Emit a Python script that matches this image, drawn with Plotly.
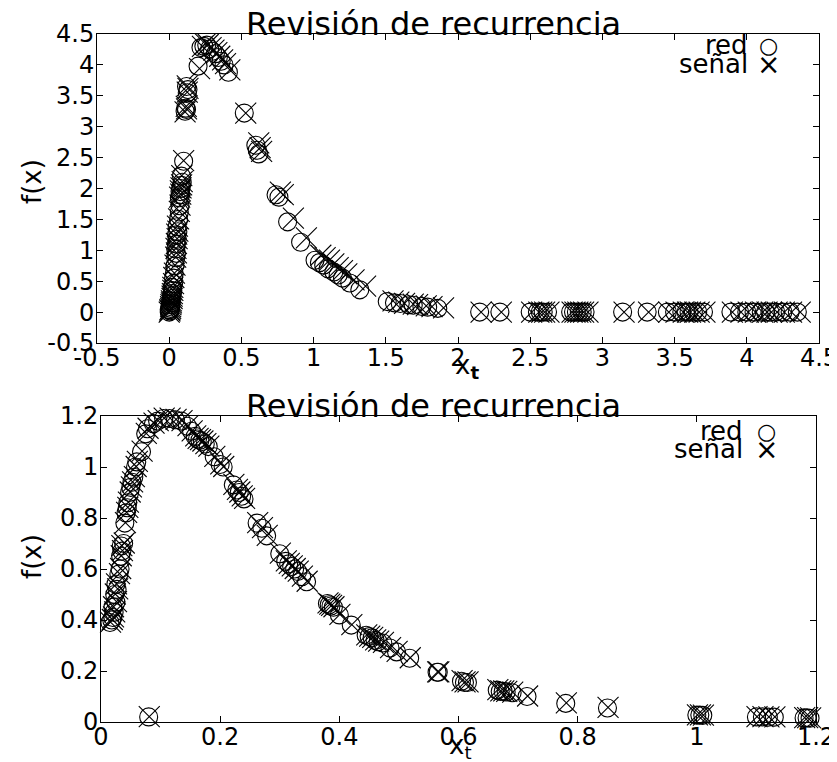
import plotly.graph_objects as go

# reference canvas size; the page body adds an 8 px margin, so the figure is drawn 8 px smaller
W, H = 837, 762
OFF = 8
FW, FH = W - OFF, H - OFF

# ---------------- top panel data ----------------
top_red_x = [0.00, 0.005, 0.0, 0.01, 0.005, 0.01, 0.015, 0.01, 0.02, 0.015, 0.02, 0.025, 0.02, 0.03,
             0.03, 0.035, 0.04, 0.045, 0.05, 0.045, 0.05, 0.055, 0.05, 0.06, 0.055, 0.065, 0.07, 0.075,
             0.07, 0.08, 0.075, 0.08, 0.085, 0.09, 0.085, 0.10,
             0.11, 0.12, 0.115, 0.125, 0.13, 0.12,
             0.20,
             0.22, 0.24, 0.26, 0.28, 0.30, 0.32, 0.34, 0.36, 0.38, 0.41,
             0.52,
             0.60, 0.61, 0.62,
             0.74, 0.76,
             0.82,
             0.91,
             1.01, 1.04, 1.07, 1.10, 1.14, 1.17, 1.20, 1.25, 1.32,
             1.51, 1.56, 1.60, 1.66, 1.69, 1.75, 1.79, 1.86,
             2.15, 2.29, 2.50, 2.55, 2.57, 2.59, 2.62, 2.78, 2.80, 2.82, 2.84, 2.86, 2.88,
             3.14, 3.31, 3.45, 3.50, 3.55, 3.58, 3.60, 3.63, 3.66, 3.70, 3.89, 3.95, 4.00,
             4.05, 4.10, 4.13, 4.16, 4.20, 4.25, 4.30, 4.35]
top_red_y = [0.00, 0.02, 0.04, 0.06, 0.09, 0.12, 0.15, 0.18, 0.22, 0.26, 0.30, 0.35, 0.40, 0.46,
             0.55, 0.62, 0.75, 0.88, 0.95, 1.02, 1.10, 1.18, 1.25, 1.30, 1.38, 1.50, 1.62, 1.72,
             1.85, 1.90, 1.95, 2.00, 2.05, 2.10, 2.20, 2.44,
             3.25, 3.28, 3.30, 3.55, 3.60, 3.65,
             3.98,
             4.28, 4.30, 4.32, 4.26, 4.22, 4.18, 4.12, 4.06, 4.00, 3.88,
             3.22,
             2.70, 2.62, 2.56,
             1.90, 1.86,
             1.46,
             1.13,
             0.84, 0.80, 0.76, 0.70, 0.65, 0.60, 0.55, 0.47, 0.36,
             0.17, 0.15, 0.14, 0.12, 0.11, 0.09, 0.08, 0.06,
             0.0, 0.0, 0.0, 0.0, 0.0, 0.0, 0.0, 0.0, 0.0, 0.0, 0.0, 0.0, 0.0,
             0.0, 0.0, 0.0, 0.0, 0.0, 0.0, 0.0, 0.0, 0.0, 0.0, 0.0, 0.0, 0.0,
             0.0, 0.0, 0.0, 0.0, 0.0, 0.0, 0.0, 0.0]

top_sen_x = [0.00, 0.005, 0.005, 0.01, 0.01, 0.012, 0.015, 0.015, 0.02, 0.02, 0.022, 0.025, 0.025, 0.03,
             0.032, 0.036, 0.04, 0.045, 0.05, 0.047, 0.05, 0.055, 0.052, 0.06, 0.057, 0.065, 0.07, 0.075,
             0.072, 0.08, 0.077, 0.082, 0.086, 0.09, 0.087, 0.10,
             0.11, 0.12, 0.118, 0.125, 0.13, 0.125,
             0.21,
             0.23, 0.25, 0.27, 0.29, 0.31, 0.33, 0.35, 0.37, 0.39, 0.42,
             0.53,
             0.62, 0.63, 0.64,
             0.77, 0.79,
             0.86,
             0.95,
             1.05, 1.08, 1.11, 1.14, 1.17, 1.20, 1.23, 1.28, 1.36,
             1.55, 1.59, 1.63, 1.69, 1.72, 1.78, 1.82, 1.90,
             2.16, 2.30, 2.51, 2.56, 2.58, 2.60, 2.63, 2.79, 2.81, 2.83, 2.85, 2.87, 2.90,
             3.15, 3.32, 3.46, 3.51, 3.56, 3.59, 3.61, 3.64, 3.67, 3.71, 3.90, 3.96, 4.01,
             4.06, 4.11, 4.14, 4.17, 4.21, 4.26, 4.31, 4.37]
top_sen_y = [0.00, 0.02, 0.04, 0.06, 0.09, 0.12, 0.15, 0.18, 0.22, 0.26, 0.30, 0.35, 0.40, 0.46,
             0.56, 0.63, 0.76, 0.89, 0.96, 1.03, 1.11, 1.19, 1.26, 1.31, 1.39, 1.51, 1.63, 1.73,
             1.86, 1.91, 1.96, 2.01, 2.06, 2.11, 2.21, 2.45,
             3.24, 3.29, 3.33, 3.56, 3.62, 3.66,
             3.94,
             4.30, 4.34, 4.33, 4.28, 4.24, 4.20, 4.14, 4.08, 4.02, 3.92,
             3.22,
             2.74, 2.66, 2.60,
             1.94, 1.90,
             1.52,
             1.20,
             0.92, 0.88, 0.84, 0.78, 0.72, 0.67, 0.62, 0.52, 0.42,
             0.18, 0.16, 0.14, 0.13, 0.12, 0.10, 0.09, 0.07,
             0.0, 0.0, 0.0, 0.0, 0.0, 0.0, 0.0, 0.0, 0.0, 0.0, 0.0, 0.0, 0.0,
             0.0, 0.0, 0.0, 0.0, 0.0, 0.0, 0.0, 0.0, 0.0, 0.0, 0.0, 0.0, 0.0,
             0.0, 0.0, 0.0, 0.0, 0.0, 0.0, 0.0, 0.0]

# ---------------- bottom panel data ----------------
bot_red_x = [0.015, 0.018, 0.020, 0.022, 0.020, 0.025, 0.023, 0.027, 0.025, 0.030, 0.032, 0.033, 0.035,
             0.034, 0.038, 0.040, 0.042, 0.044, 0.045, 0.048, 0.050, 0.052, 0.055, 0.058, 0.060, 0.068,
             0.075, 0.078, 0.088, 0.095, 0.105, 0.115, 0.125, 0.135, 0.145, 0.152, 0.158, 0.162, 0.166,
             0.170, 0.175, 0.180, 0.190, 0.200, 0.205, 0.222, 0.228, 0.232, 0.236, 0.240, 0.262, 0.270,
             0.278, 0.300, 0.310, 0.315, 0.320, 0.325, 0.330, 0.337, 0.345, 0.380, 0.383, 0.386, 0.390,
             0.400, 0.420, 0.445, 0.450, 0.455, 0.460, 0.465, 0.473, 0.485, 0.496, 0.518, 0.564, 0.566,
             0.605, 0.610, 0.615, 0.665, 0.670, 0.675, 0.680, 0.690, 0.715, 0.780, 0.850, 1.000, 1.005,
             1.010, 1.100, 1.110, 1.120, 1.130, 1.180, 1.185, 1.190, 0.080]
bot_red_y = [0.390, 0.400, 0.410, 0.430, 0.450, 0.470, 0.500, 0.520, 0.540, 0.580, 0.600, 0.650, 0.670,
             0.690, 0.700, 0.780, 0.820, 0.840, 0.860, 0.900, 0.920, 0.940, 0.960, 1.000, 1.020, 1.060,
             1.130, 1.150, 1.170, 1.180, 1.190, 1.190, 1.185, 1.180, 1.160, 1.140, 1.120, 1.110, 1.105,
             1.100, 1.090, 1.080, 1.040, 1.010, 1.000, 0.930, 0.910, 0.900, 0.885, 0.875, 0.780, 0.760,
             0.730, 0.660, 0.630, 0.620, 0.610, 0.600, 0.590, 0.570, 0.550, 0.465, 0.460, 0.455, 0.450,
             0.420, 0.380, 0.340, 0.335, 0.330, 0.320, 0.315, 0.310, 0.290, 0.275, 0.250, 0.195, 0.195,
             0.160, 0.155, 0.155, 0.125, 0.120, 0.120, 0.118, 0.115, 0.100, 0.073, 0.055, 0.027, 0.027,
             0.026, 0.020, 0.020, 0.019, 0.019, 0.016, 0.016, 0.015, 0.020]

bot_sen_x = [0.016, 0.019, 0.021, 0.023, 0.021, 0.026, 0.024, 0.028, 0.026, 0.031, 0.033, 0.034, 0.036,
             0.035, 0.039, 0.041, 0.043, 0.045, 0.046, 0.049, 0.051, 0.053, 0.056, 0.059, 0.061, 0.069,
             0.076, 0.079, 0.089, 0.096, 0.106, 0.116, 0.126, 0.136, 0.146, 0.153, 0.159, 0.163, 0.167,
             0.171, 0.176, 0.181, 0.191, 0.201, 0.206, 0.223, 0.229, 0.233, 0.237, 0.241, 0.263, 0.271,
             0.279, 0.301, 0.311, 0.316, 0.321, 0.326, 0.331, 0.338, 0.346, 0.381, 0.384, 0.387, 0.391,
             0.401, 0.421, 0.446, 0.451, 0.456, 0.461, 0.466, 0.474, 0.486, 0.497, 0.519, 0.565, 0.567,
             0.606, 0.611, 0.616, 0.666, 0.671, 0.676, 0.681, 0.691, 0.716, 0.781, 0.851, 1.001, 1.006,
             1.011, 1.101, 1.111, 1.121, 1.131, 1.181, 1.186, 1.191, 0.081]
bot_sen_y = [0.392, 0.402, 0.412, 0.432, 0.452, 0.472, 0.502, 0.522, 0.542, 0.582, 0.602, 0.652, 0.672,
             0.692, 0.702, 0.782, 0.822, 0.842, 0.862, 0.902, 0.922, 0.942, 0.962, 1.002, 1.022, 1.062,
             1.132, 1.152, 1.172, 1.182, 1.192, 1.192, 1.187, 1.182, 1.162, 1.142, 1.122, 1.112, 1.107,
             1.102, 1.092, 1.082, 1.042, 1.012, 1.002, 0.932, 0.912, 0.902, 0.887, 0.877, 0.782, 0.762,
             0.732, 0.662, 0.632, 0.622, 0.612, 0.602, 0.592, 0.572, 0.552, 0.467, 0.462, 0.457, 0.452,
             0.422, 0.382, 0.342, 0.337, 0.332, 0.322, 0.317, 0.312, 0.292, 0.277, 0.252, 0.197, 0.197,
             0.162, 0.157, 0.157, 0.127, 0.122, 0.122, 0.120, 0.117, 0.102, 0.075, 0.057, 0.028, 0.028,
             0.027, 0.021, 0.021, 0.020, 0.020, 0.017, 0.017, 0.016, 0.021]

top_xticks = [-0.5, 0, 0.5, 1, 1.5, 2, 2.5, 3, 3.5, 4, 4.5]
top_xlabels = ["-0.5", "0", "0.5", "1", "1.5", "2", "2.5", "3", "3.5", "4", "4.5"]
top_yticks = [-0.5, 0, 0.5, 1, 1.5, 2, 2.5, 3, 3.5, 4, 4.5]
top_ylabels = ["-0.5", "0", "0.5", "1", "1.5", "2", "2.5", "3", "3.5", "4", "4.5"]
bot_xticks = [0, 0.2, 0.4, 0.6, 0.8, 1, 1.2]
bot_xlabels = ["0", "0.2", "0.4", "0.6", "0.8", "1", "1.2"]
bot_yticks = [0, 0.2, 0.4, 0.6, 0.8, 1, 1.2]
bot_ylabels = ["0", "0.2", "0.4", "0.6", "0.8", "1", "1.2"]

title_text = "Revisión de recurrencia"
legend_names = ["red", "señal"]

FONT = "DejaVu Sans"

fig = go.Figure()

def add_pair(rx, ry, sx, sy, xa, ya):
    fig.add_trace(go.Scatter(x=rx, y=ry, mode="markers", xaxis=xa, yaxis=ya, cliponaxis=False,
                             name=legend_names[0], showlegend=False,
                             marker=dict(symbol="circle-open", size=18, color="black",
                                         line=dict(width=1.1, color="black"))))
    fig.add_trace(go.Scatter(x=sx, y=sy, mode="markers", xaxis=xa, yaxis=ya, cliponaxis=False,
                             name=legend_names[1], showlegend=False,
                             marker=dict(symbol="x-thin-open", size=21, color="black",
                                         line=dict(width=1.1, color="black"))))

add_pair(top_red_x, top_red_y, top_sen_x, top_sen_y, "x", "y")
add_pair(bot_red_x, bot_red_y, bot_sen_x, bot_sen_y, "x2", "y2")

axis_common = dict(showline=True, linecolor="black", linewidth=1, mirror="ticks",
                   ticks="inside", ticklen=6, tickwidth=1, tickcolor="black",
                   showgrid=False, zeroline=False, automargin=False,
                   ticklabeloverflow="allow",
                   tickfont=dict(family=FONT, size=24, color="black"))
xaxis_extra = dict(ticklabelstandoff=-7)
yaxis_extra = dict(ticklabelstandoff=-3)

def px_x(p):
    return (p - OFF) / FW

def px_y(p):
    return 1 - (p - OFF) / FH

fig.update_layout(
    width=FW, height=FH, margin=dict(l=0, r=0, t=0, b=0, pad=0),
    paper_bgcolor="white", plot_bgcolor="white", showlegend=False,
    xaxis=dict(domain=[px_x(97), px_x(819)], range=[-0.5, 4.5], anchor="y",
               tickvals=top_xticks, ticktext=top_xlabels, **axis_common, **xaxis_extra),
    yaxis=dict(domain=[px_y(343), px_y(34)], range=[-0.5, 4.5], anchor="x",
               tickvals=top_yticks, ticktext=top_ylabels, **axis_common, **yaxis_extra),
    xaxis2=dict(domain=[px_x(101), px_x(816)], range=[0, 1.2], anchor="y2",
                tickvals=bot_xticks, ticktext=bot_xlabels, **axis_common, **xaxis_extra),
    yaxis2=dict(domain=[px_y(722), px_y(416)], range=[0, 1.2], anchor="x2",
                tickvals=bot_yticks, ticktext=bot_ylabels, **axis_common, **yaxis_extra),
)

ann = []
# titles
for cx, cy in [(433, 24), (433, 406)]:
    ann.append(dict(text=title_text, x=px_x(cx), y=px_y(cy), xref="paper", yref="paper",
                    xanchor="center", yanchor="middle", showarrow=False,
                    font=dict(family=FONT, size=32, color="black")))
# y labels
for cx, cy in [(32, 182), (32, 557)]:
    ann.append(dict(text="f(x)", x=px_x(cx), y=px_y(cy), xref="paper", yref="paper",
                    xanchor="center", yanchor="middle", showarrow=False, textangle=-90,
                    font=dict(family=FONT, size=26, color="black")))
# x labels
ann.append(dict(text="x<sub><b>t</b></sub>", x=px_x(467), y=px_y(366), xref="paper", yref="paper",
                xanchor="center", yanchor="middle", showarrow=False,
                font=dict(family=FONT, size=26, color="black")))
ann.append(dict(text="x<sub>t</sub>", x=px_x(460), y=px_y(746), xref="paper", yref="paper",
                xanchor="center", yanchor="middle", showarrow=False,
                font=dict(family=FONT, size=26, color="black")))
# legends (text right-aligned, symbol to the right)
for (rx, ry1, ry2, sx) in [(750, 45, 64, 768), (745, 431, 449, 766)]:
    ann.append(dict(text=legend_names[0], x=px_x(rx), y=px_y(ry1), xref="paper", yref="paper",
                    xanchor="right", yanchor="middle", showarrow=False,
                    font=dict(family=FONT, size=26, color="black")))
    ann.append(dict(text=legend_names[1], x=px_x(rx), y=px_y(ry2), xref="paper", yref="paper",
                    xanchor="right", yanchor="middle", showarrow=False,
                    font=dict(family=FONT, size=26, color="black")))
    ann.append(dict(text="○", x=px_x(sx), y=px_y(ry1), xref="paper", yref="paper",
                    xanchor="center", yanchor="middle", showarrow=False,
                    font=dict(family=FONT, size=22, color="black")))
    ann.append(dict(text="×", x=px_x(sx), y=px_y(ry2), xref="paper", yref="paper",
                    xanchor="center", yanchor="middle", showarrow=False,
                    font=dict(family=FONT, size=28, color="black")))

fig.update_layout(annotations=ann)
fig.write_html("out.html")
